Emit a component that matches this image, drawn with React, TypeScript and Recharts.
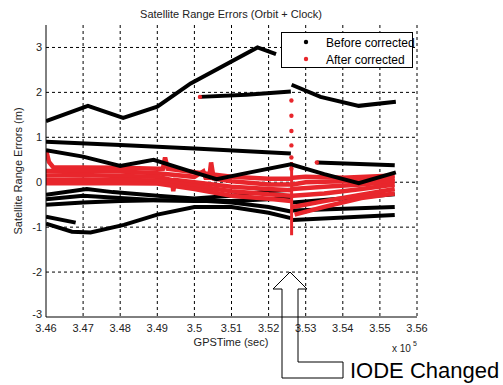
import { ComposedChart, Line, Scatter, XAxis, YAxis, CartesianGrid } from "recharts";

type Pt = [number, number];

const xTicks = [346000, 347000, 348000, 349000, 350000, 351000, 352000, 353000, 354000, 355000, 356000];
const yTicks = [-3, -2, -1, 0, 1, 2, 3];

// before corrected (black)
const satTop: Pt[] = [[346000, 1.36], [347130, 1.7], [348080, 1.43], [349000, 1.68], [349900, 2.2], [351700, 3.0], [352200, 2.85]];
const satHigh1: Pt[] = [[350150, 1.9], [351400, 1.95], [352600, 2.02]];
const satHigh2: Pt[] = [[352620, 2.17], [353400, 1.9], [354430, 1.7], [355430, 1.79]];
const satA: Pt[] = [[346000, 0.9], [348000, 0.83], [350000, 0.75], [352600, 0.64]];
const satB: Pt[] = [[346000, 0.71], [347000, 0.57], [348000, 0.36], [348900, 0.5], [349900, 0.24], [350600, 0.07], [351500, 0.22], [352600, 0.4], [353500, 0.18], [354430, -0.02], [355430, 0.22]];
const satShort: Pt[] = [[353300, 0.44], [355400, 0.38]];
const satD1: Pt[] = [[346000, -0.28], [347100, -0.15], [347800, -0.22], [349000, -0.3], [350000, -0.36], [351000, -0.3], [352000, -0.2], [352600, -0.17]];
const satD2: Pt[] = [[346000, -0.38], [347000, -0.3], [348000, -0.35], [349000, -0.4], [350000, -0.42], [351000, -0.42], [352000, -0.38], [352600, -0.35]];
const satE: Pt[] = [[346000, -0.5], [347000, -0.45], [348000, -0.42], [349000, -0.4], [350000, -0.4], [351000, -0.45], [352000, -0.55], [352600, -0.65]];
const satF: Pt[] = [[346000, -0.92], [346700, -1.1], [347200, -1.12], [348100, -0.95], [349000, -0.72], [350000, -0.55], [351000, -0.55], [352000, -0.68], [352600, -0.8]];
const satLow: Pt[] = [[346000, -0.77], [346800, -0.9]];
const satP1: Pt[] = [[352650, -0.45], [355400, -0.27]];
const satP2: Pt[] = [[352650, -0.63], [355400, -0.55]];
const satP3: Pt[] = [[352650, -0.84], [355400, -0.73]];

// after corrected (red)
const corR1: Pt[] = [[346000, 0.72], [346080, 0.45], [346200, 0.33], [347000, 0.33], [348000, 0.32], [349000, 0.3], [349150, 0.3], [349210, 0.55], [349280, 0.3], [350000, 0.22], [351000, 0.12], [352000, 0.08], [352600, 0.08]];
const corR2: Pt[] = [[346000, 0.25], [347000, 0.25], [348000, 0.24], [349000, 0.2], [350000, 0.12], [350240, 0.24], [350300, 0.1], [350400, 0.1], [350450, 0.44], [350520, 0.08], [351000, 0.02], [352000, -0.05], [352600, -0.05]];
const corR3: Pt[] = [[346000, 0.15], [347000, 0.16], [348000, 0.14], [349000, 0.12], [349400, 0.05], [349430, -0.2], [349480, 0.05], [350000, 0.0], [351000, -0.1], [352000, -0.15], [352600, -0.18]];
const corR4: Pt[] = [[346000, 0.05], [347000, 0.06], [348000, 0.05], [349000, 0.04], [350000, -0.08], [351000, -0.2], [352000, -0.27], [352600, -0.3]];
const corR5: Pt[] = [[346000, -0.02], [347000, -0.02], [348000, -0.02], [349000, -0.03], [350000, -0.15], [351000, -0.3], [352000, -0.37], [352600, -0.42]];
const corQ1: Pt[] = [[352650, 0.1], [353000, 0.12], [354000, 0.1], [355400, 0.15]];
const corQ2: Pt[] = [[352650, -0.05], [353000, 0.0], [354000, 0.02], [355400, 0.08]];
const corQ3: Pt[] = [[352650, -0.15], [353500, -0.1], [354500, -0.05], [355400, 0.02]];
const corQ4: Pt[] = [[352650, -0.3], [353500, -0.25], [354500, -0.15], [355400, -0.05]];
const corQ5: Pt[] = [[352650, -0.55], [353500, -0.42], [354500, -0.28], [355400, -0.15]];
const corQ6: Pt[] = [[352700, -0.72], [353500, -0.55], [354500, -0.35], [355400, -0.25]];
const corSpike: Pt[] = [[352620, 0.45], [352620, -1.18]];
const corDots: Pt[] = [[352615, 1.82], [352615, 1.48], [352615, 1.14], [352615, 0.82], [352615, 0.55], [352615, 0.3], [350150, 1.9], [353300, 0.44]];

const BLACK = "#000000";
const RED = "#e8262c";
const FONT = "Liberation Sans, Arial, sans-serif";

const rows = (pts: Pt[]) => pts.map(([t, v]) => ({ t, v }));

const blackUnder = [satTop, satHigh1, satHigh2, satA, satShort, satD1, satD2, satE, satF, satLow, satP1, satP2, satP3];
const redLines = [corR1, corR2, corR3, corR4, corR5, corQ1, corQ2, corQ3, corQ4, corQ5, corQ6];

const fmtX = (v: number) => String(+(v / 1e5).toFixed(2));
const tickStyle = { fontSize: 11, fill: "#222", fontFamily: FONT };

// y tick: the bottom label is nudged up a little so it clears the x labels
const YTick = (p: any) => {
  const v = p.payload.value;
  return (
    <text x={p.x} y={p.y + (v === -3 ? -3 : 0)} dy="0.355em" textAnchor="end" fontSize={11} fill="#222" fontFamily={FONT}>
      {v}
    </text>
  );
};

export default function App() {
  return (
    <div style={{ position: "absolute", left: 0, top: 0, width: 503, height: 385, background: "#fff" }}>
      <ComposedChart width={503} height={385} margin={{ top: 25, right: 86, bottom: 38, left: 10 }}>
        <CartesianGrid stroke="#000" strokeDasharray="3 3" horizontalValues={[-2, -1, 0, 1, 2, 3]} verticalValues={xTicks.slice(1)} />
        <XAxis
          dataKey="t"
          type="number"
          domain={[346000, 356000]}
          ticks={xTicks}
          tickFormatter={fmtX}
          allowDataOverflow
          height={30}
          tickLine={false}
          tickSize={3}
          tickMargin={4}
          stroke="#000"
          tick={tickStyle}
        />
        <YAxis
          type="number"
          domain={[-3, 3.5]}
          ticks={yTicks}
          allowDataOverflow
          width={36}
          tickLine={false}
          tickSize={2}
          tickMargin={2}
          stroke="#000"
          tick={<YTick />}
        />
        {blackUnder.map((s, i) => (
          <Line key={"b" + i} data={rows(s)} dataKey="v" stroke={BLACK} strokeWidth={4} dot={false} isAnimationActive={false} />
        ))}
        {redLines.map((s, i) => (
          <Line key={"r" + i} data={rows(s)} dataKey="v" stroke={RED} strokeWidth={4.5} dot={false} isAnimationActive={false} />
        ))}
        <Line data={rows(corSpike)} dataKey="v" stroke={RED} strokeWidth={3} dot={false} isAnimationActive={false} />
        <Line data={rows(satB)} dataKey="v" stroke={BLACK} strokeWidth={4} dot={false} isAnimationActive={false} />
        <Scatter data={rows(corDots)} dataKey="v" fill={RED} shape={(p: any) => <circle cx={p.cx} cy={p.cy} r={2.2} fill={RED} />} isAnimationActive={false} />
      </ComposedChart>
      <svg width={503} height={385} style={{ position: "absolute", left: 0, top: 0, pointerEvents: "none" }} fontFamily={FONT}>
        <text x={231} y={18} textAnchor="middle" fontSize={11} fill="#222">Satellite Range Errors (Orbit + Clock)</text>
        <text x={0} y={0} transform="translate(22,171) rotate(-90)" textAnchor="middle" fontSize={11} fill="#222">Satellite Range Errors (m)</text>
        <text x={231} y={346} textAnchor="middle" fontSize={11} fill="#222">GPSTime (sec)</text>
        <text x={392} y={352} fontSize={10} fill="#222">x 10</text>
        <text x={413} y={346} fontSize={7} fill="#222">5</text>
        <rect x={281.5} y={32.5} width={131} height={35} fill="#fff" stroke="#000" strokeWidth={1} />
        <circle cx={306} cy={42} r={2.2} fill={BLACK} />
        <text x={326} y={47} fontSize={12} fill="#000">Before corrected</text>
        <circle cx={306} cy={59} r={2.2} fill={RED} />
        <text x={326} y={64} fontSize={12} fill="#000">After corrected</text>
        <path d="M290,272 L307,289 L298,289 L298,362 L343,362 L343,378 L282,378 L282,289 L273,289 Z" fill="none" stroke="#000" strokeWidth={1} />
        <text x={350} y={378} fontSize={22} fill="#000">IODE Changed</text>
      </svg>
    </div>
  );
}
